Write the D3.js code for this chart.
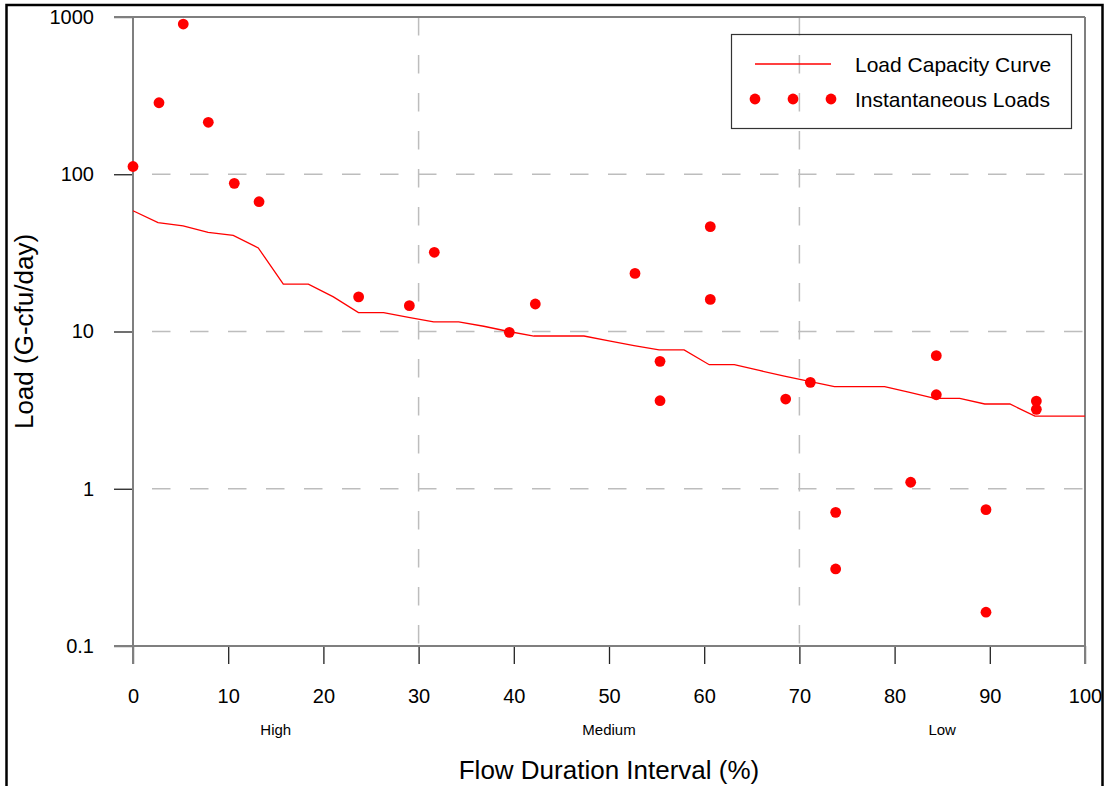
<!DOCTYPE html>
<html>
<head>
<meta charset="utf-8">
<script src="https://cdn.jsdelivr.net/npm/d3@7"></script>
<style>
  html, body { margin: 0; padding: 0; background: #fff; }
  svg { display: block; font-family: "Liberation Sans", Arial, sans-serif; }
</style>
</head>
<body>
<svg id="chart" width="1105" height="786"></svg>
<script>
// ---- data ----
const curveX = [0, 2.63, 5.26, 7.89, 10.53, 13.16, 15.79, 18.42, 21.05, 23.68, 26.32, 28.95, 31.58, 34.21, 36.84, 39.47, 42.11, 44.74, 47.37, 50.00, 52.63, 55.26, 57.89, 60.53, 63.16, 65.79, 68.42, 71.05, 73.68, 76.32, 78.95, 81.58, 84.21, 86.84, 89.47, 92.11, 94.74, 97.37, 100];
const curveY = [58.6, 49.2, 47.0, 42.7, 40.9, 34.0, 20.0, 20.0, 16.6, 13.2, 13.2, 12.3, 11.5, 11.5, 10.8, 10.0, 9.36, 9.36, 9.36, 8.71, 8.12, 7.63, 7.63, 6.15, 6.15, 5.65, 5.21, 4.82, 4.46, 4.46, 4.46, 4.10, 3.76, 3.76, 3.46, 3.46, 2.90, 2.90, 2.90];
const loadX = [0, 2.73, 5.28, 7.91, 10.64, 13.24, 23.7, 29.03, 31.65, 39.53, 42.26, 52.73, 55.36, 55.36, 60.64, 60.64, 68.56, 71.15, 73.81, 73.81, 81.69, 84.38, 84.38, 89.6, 89.6, 94.89, 94.89];
const loadY = [112, 285, 902, 214, 87.5, 66.9, 16.6, 14.6, 31.9, 9.88, 14.96, 23.4, 6.46, 3.63, 46.4, 16.0, 3.72, 4.75, 0.708, 0.309, 1.10, 7.02, 3.96, 0.736, 0.164, 3.61, 3.20];
const xTicks = [0, 10, 20, 30, 40, 50, 60, 70, 80, 90, 100];
const yTicks = [0.1, 1, 10, 100, 1000];
const yTickLabels = ["0.1", "1", "10", "100", "1000"];
const xGrid = [30, 70];
const yGrid = [1, 10, 100];
const zoneNames = ["High", "Medium", "Low"];
const zoneMid = [15, 50, 85];
const legendNames = ["Load Capacity Curve", "Instantaneous Loads"];

// ---- layout ----
const svg = d3.select("#chart");
const x = d3.scaleLinear().domain([0, 100]).range([133, 1085]);
const y = d3.scaleLog().domain([0.1, 1000]).range([646, 17]);
const RED = "#ff0000";

// outer frame
svg.append("rect").attr("x", 6.5).attr("y", 5).attr("width", 1096).attr("height", 820)
  .attr("fill", "none").attr("stroke", "#000").attr("stroke-width", 2.5);

// grid
const grid = svg.append("g").attr("stroke", "#bdbdbd").attr("stroke-width", 1.5)
  .attr("stroke-dasharray", "18.5,19.5");
grid.selectAll("line.h").data(yGrid).join("line").attr("class", "h")
  .attr("x1", x(0) + 19).attr("x2", x(100)).attr("y1", d => y(d)).attr("y2", d => y(d));
grid.selectAll("line.v").data(xGrid).join("line").attr("class", "v")
  .attr("y1", y(1000)).attr("y2", y(0.1)).attr("x1", d => x(d)).attr("x2", d => x(d));

// axes (ticks)
const yAxis = d3.axisLeft(y).tickValues(yTicks).tickSize(19).tickPadding(20)
  .tickFormat((d, i) => yTickLabels[i]);
const gy = svg.append("g").attr("transform", `translate(${x(0)},0)`).call(yAxis);
gy.select(".domain").remove();
gy.selectAll("line").attr("stroke", "#222").attr("stroke-width", 1.3);
gy.selectAll("text").attr("font-size", 20).attr("fill", "#000")
  .attr("font-family", "Liberation Sans, Arial, sans-serif");

const xAxis = d3.axisBottom(x).tickValues(xTicks).tickSize(18).tickPadding(25);
const gx = svg.append("g").attr("transform", `translate(0,${y(0.1)})`).call(xAxis);
gx.select(".domain").remove();
gx.selectAll("line").attr("stroke", "#222").attr("stroke-width", 1.3);
gx.selectAll("text").attr("font-size", 20).attr("fill", "#000")
  .attr("font-family", "Liberation Sans, Arial, sans-serif");

// plot frame (grey)
const frame = svg.append("g").attr("stroke", "#7f7f7f").attr("stroke-width", 2);
frame.append("line").attr("x1", x(0) - 19).attr("x2", x(100)).attr("y1", y(1000)).attr("y2", y(1000));
frame.append("line").attr("x1", x(0) - 19).attr("x2", x(100)).attr("y1", y(0.1)).attr("y2", y(0.1));
frame.append("line").attr("x1", x(0)).attr("x2", x(0)).attr("y1", y(1000)).attr("y2", y(0.1) + 18);
frame.append("line").attr("x1", x(100)).attr("x2", x(100)).attr("y1", y(1000)).attr("y2", y(0.1) + 18);

// load capacity curve
const curveData = curveX.map((d, i) => [d, curveY[i]]);
svg.append("path").datum(curveData)
  .attr("fill", "none").attr("stroke", RED).attr("stroke-width", 1.3)
  .attr("d", d3.line().x(d => x(d[0])).y(d => y(d[1])));

// instantaneous loads
const pts = loadX.map((d, i) => [d, loadY[i]]);
svg.append("g").selectAll("circle").data(pts).join("circle")
  .attr("cx", d => x(d[0])).attr("cy", d => y(d[1])).attr("r", 5.4).attr("fill", RED);

// zone labels
svg.append("g").selectAll("text").data(zoneNames).join("text")
  .attr("x", (d, i) => x(zoneMid[i])).attr("y", 735).attr("text-anchor", "middle")
  .attr("font-size", 15).attr("fill", "#000").text(d => d);

// axis titles
svg.append("text").attr("x", (x(0) + x(100)) / 2).attr("y", 779).attr("text-anchor", "middle")
  .attr("font-size", 26).attr("fill", "#000").text("Flow Duration Interval (%)");
svg.append("text").attr("transform", `translate(33,${(y(1000) + y(0.1)) / 2}) rotate(-90)`)
  .attr("text-anchor", "middle").attr("font-size", 26).attr("fill", "#000").text("Load (G-cfu/day)");

// legend
const lg = svg.append("g");
lg.append("rect").attr("x", 731.5).attr("y", 34.5).attr("width", 340).attr("height", 94)
  .attr("fill", "none").attr("stroke", "#333").attr("stroke-width", 1.2);
lg.append("line").attr("x1", 755).attr("x2", 831).attr("y1", 64).attr("y2", 64)
  .attr("stroke", RED).attr("stroke-width", 1.3);
lg.selectAll("circle").data([755, 793, 831]).join("circle")
  .attr("cx", d => d).attr("cy", 99).attr("r", 5.4).attr("fill", RED);
lg.selectAll("text").data(legendNames).join("text")
  .attr("x", 855).attr("y", (d, i) => 71.5 + i * 35).attr("font-size", 21).attr("fill", "#000")
  .text(d => d);
</script>
</body>
</html>
